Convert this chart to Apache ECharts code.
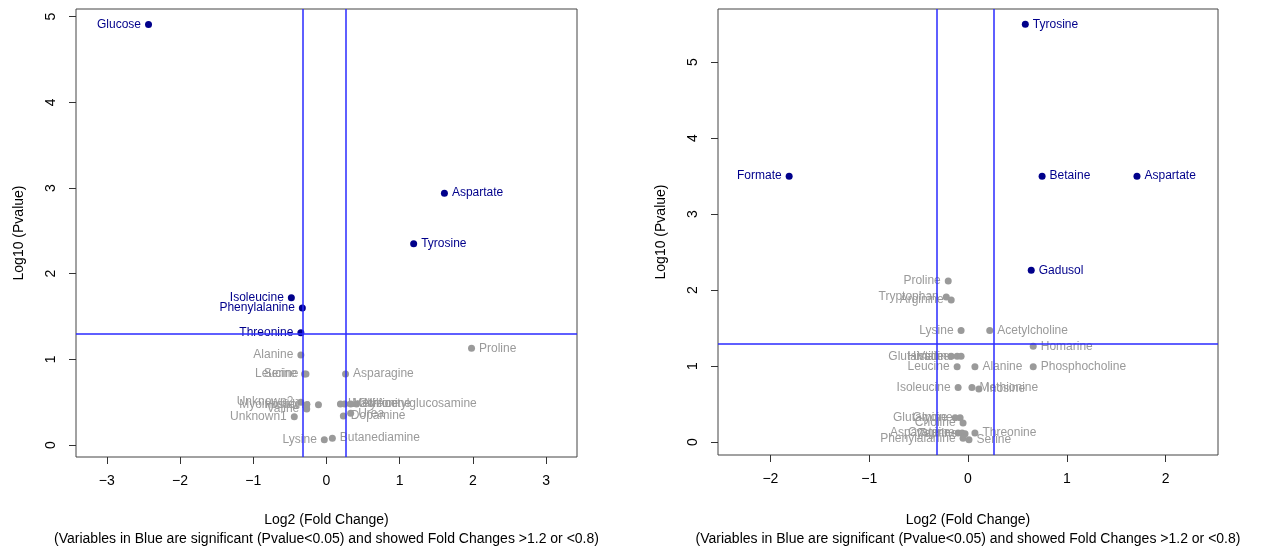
<!DOCTYPE html>
<html>
<head>
<meta charset="utf-8">
<script src="https://cdn.jsdelivr.net/npm/echarts@6/dist/echarts.min.js"></script>
<style>html,body{margin:0;padding:0;background:#fff}#c{width:1265px;height:549px}</style>
</head>
<body>
<div id="c"></div>
<script>
// ---- Data ----
const leftNames = ["Glucose","Aspartate","Tyrosine","Isoleucine","Phenylalanine","Threonine","Proline","Alanine","Leucine","Serine","Asparagine","Unknown2","Myoinositol","Valine","Histidine","Unknown1","Lysine","Butanediamine","Uracil","Methionine","Glycine","N-Acetylglucosamine","Urea","Dopamine"];
const leftFC = [-2.43,1.61,1.19,-0.48,-0.33,-0.35,1.98,-0.35,-0.30,-0.28,0.26,-0.35,-0.27,-0.27,-0.11,-0.44,-0.03,0.08,0.19,0.25,0.33,0.41,0.33,0.23];
const leftP  = [4.91,2.94,2.35,1.72,1.60,1.31,1.13,1.05,0.83,0.83,0.83,0.50,0.47,0.42,0.47,0.33,0.06,0.08,0.48,0.48,0.48,0.48,0.37,0.34];

const rightNames = ["Tyrosine","Formate","Betaine","Aspartate","Gadusol","Proline","Tryptophan","Arginine","Lysine","Acetylcholine","Homarine","Glutamate","Valine","Histidine","Leucine","Alanine","Phosphocholine","Isoleucine","Methionine","Inosine","Glutamine","Glycine","Choline","Asparagine","Cysteine","Taurine","Threonine","Phenylalanine","Serine"];
const rightFC = [0.58,-1.81,0.75,1.71,0.64,-0.20,-0.22,-0.17,-0.07,0.22,0.66,-0.17,-0.11,-0.07,-0.11,0.07,0.66,-0.10,0.04,0.11,-0.13,-0.08,-0.05,-0.10,-0.06,-0.03,0.07,-0.05,0.01];
const rightP  = [5.50,3.50,3.50,3.50,2.26,2.12,1.91,1.87,1.47,1.47,1.26,1.13,1.13,1.13,0.99,0.99,0.99,0.72,0.72,0.70,0.32,0.32,0.25,0.12,0.12,0.11,0.12,0.05,0.03];

const leftXTicks = [-3,-2,-1,0,1,2,3];
const rightXTicks = [-2,-1,0,1,2];
const yTicks = [0,1,2,3,4,5];

const fcLow = Math.log2(0.8), fcHigh = Math.log2(1.2), pCut = -Math.log10(0.05);

// ---- Build ----
const SIG = '#00008B', NS = '#9a9a9a', LINE = '#2a2aff';
const FONT = 'Liberation Sans, Arial, sans-serif';

function isSig(x, y){ return y > pCut && (x < fcLow || x > fcHigh); }
function pts(names, fc, p, sig){
  const out = [];
  names.forEach((n,i)=>{
    if (isSig(fc[i], p[i]) !== sig) return;
    out.push({name:n, value:[fc[i], p[i]], label:{position: fc[i] < 0 ? 'left' : 'right'}});
  });
  return out;
}
function scatter(idx, data, color){
  return {
    type:'scatter', xAxisIndex:idx, yAxisIndex:idx, data:data,
    symbolSize:7, itemStyle:{color:color, opacity:1},
    label:{show:true, formatter:'{b}', color:color, fontSize:12, fontFamily:FONT, distance:4},
    labelLayout:{hideOverlap:false}, z:3
  };
}
function lines(idx){
  const ls = {color:LINE, width:1.5, type:'solid', opacity:1};
  return {
    type:'line', xAxisIndex:idx, yAxisIndex:idx, data:[], z:2,
    markLine:{
      silent:true, symbol:['none','none'], label:{show:false}, animation:false,
      lineStyle:ls, emphasis:{disabled:true},
      data:[{xAxis:fcLow, lineStyle:ls},{xAxis:fcHigh, lineStyle:ls},{yAxis:pCut, lineStyle:ls}]
    }
  };
}
const subtitle = '(Variables in Blue are significant (Pvalue<0.05) and showed Fold Changes >1.2 or <0.8)';
function xAxis(idx, min, max, ticks, gap){
  return {
    type:'value', gridIndex:idx, min:min, max:max,
    splitLine:{show:false}, axisLine:{show:false, onZero:false},
    axisTick:{show:true, length:7, customValues:ticks, lineStyle:{color:'#333'}},
    axisLabel:{customValues:ticks, fontSize:14, color:'#000', fontFamily:FONT, margin:17,
      formatter:v=> (v<0 ? '\u2212'+Math.abs(v) : String(v))},
    name:'Log2 (Fold Change)\n'+subtitle, nameLocation:'middle', nameGap:gap,
    nameTextStyle:{fontSize:14, color:'#000', fontFamily:FONT, lineHeight:19}
  };
}
function yAxis(idx, min, max){
  return {
    type:'value', gridIndex:idx, min:min, max:max,
    splitLine:{show:false}, axisLine:{show:false, onZero:false},
    axisTick:{show:true, length:7, customValues:yTicks, lineStyle:{color:'#333'}},
    axisLabel:{customValues:yTicks, fontSize:14, color:'#000', fontFamily:FONT, rotate:90, margin:18},
    name:'Log10 (Pvalue)', nameLocation:'middle', nameGap:50, nameRotate:90,
    nameTextStyle:{fontSize:14, color:'#000', fontFamily:FONT}
  };
}

const option = {
  backgroundColor:'#fff',
  animation:false,
  grid:[
    {left:76, top:9, width:501, height:448, show:true, borderColor:'#444', borderWidth:1, backgroundColor:'transparent', outerBoundsMode:'none', containLabel:false},
    {left:718, top:9, width:500, height:446, show:true, borderColor:'#444', borderWidth:1, backgroundColor:'transparent', outerBoundsMode:'none', containLabel:false}
  ],
  xAxis:[xAxis(0,-3.42,3.42,leftXTicks,54), xAxis(1,-2.53,2.53,rightXTicks,56)],
  yAxis:[yAxis(0,-0.14,5.09), yAxis(1,-0.17,5.70)],
  series:[
    lines(0), lines(1),
    scatter(0, pts(leftNames,leftFC,leftP,false), NS),
    scatter(0, pts(leftNames,leftFC,leftP,true), SIG),
    scatter(1, pts(rightNames,rightFC,rightP,false), NS),
    scatter(1, pts(rightNames,rightFC,rightP,true), SIG)
  ]
};
const chart = echarts.init(document.getElementById('c'), null, {renderer:'canvas'});
chart.setOption(option);
</script>
</body>
</html>
